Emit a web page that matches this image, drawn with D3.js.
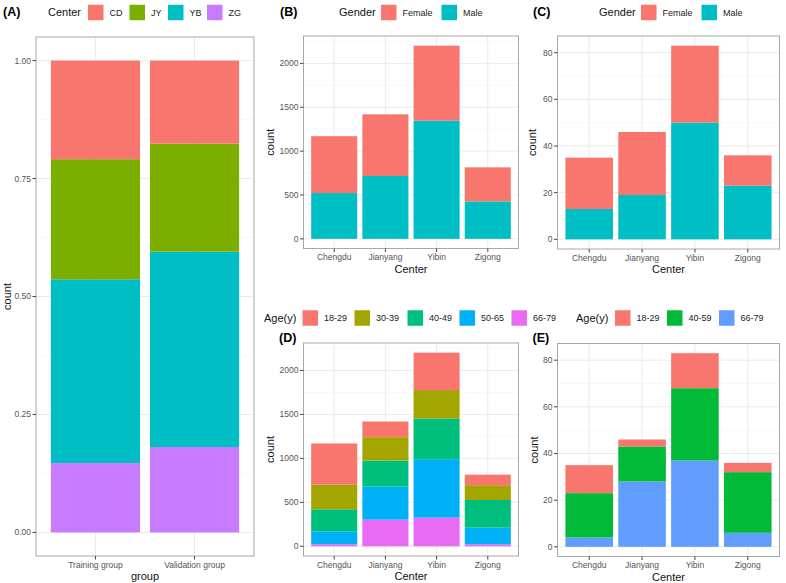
<!DOCTYPE html>
<html>
<head>
<meta charset="utf-8">
<script src="https://cdn.jsdelivr.net/npm/d3@7"></script>
<style>
  body { margin: 0; background: #fff; }
  svg { display: block; font-family: "Liberation Sans", Arial, sans-serif; }
</style>
</head>
<body>
<svg id="chart" width="786" height="583"></svg>
<script>
// ---------- DATA ----------
// Panel A: proportion of each center within group
const groupsA = ["Training group", "Validation group"];
const centerCodes = ["CD", "JY", "YB", "ZG"];
const propCD = [0.209, 0.176];
const propJY = [0.2545, 0.229];
const propYB = [0.3895, 0.414];
const propZG = [0.147, 0.181];

// Panels B-E
const centers = ["Chengdu", "Jianyang", "Yibin", "Zigong"];
const genders = ["Female", "Male"];
const trainFemale = [648, 703, 855, 388];
const trainMale = [522, 716, 1347, 427];
const valFemale = [22, 27, 33, 13];
const valMale = [13, 19, 50, 23];

const agesD = ["18-29", "30-39", "40-49", "50-65", "66-79"];
const d18_29 = [468, 178, 425, 120];
const d30_39 = [281, 266, 324, 168];
const d40_49 = [250, 296, 462, 315];
const d50_65 = [148, 376, 665, 189];
const d66_79 = [23, 303, 326, 23];

const agesE = ["18-29", "40-59", "66-79"];
const e18_29 = [12, 3, 15, 4];
const e40_59 = [19, 15, 31, 26];
const e66_79 = [4, 28, 37, 6];

const ticksA = [0, 0.25, 0.5, 0.75, 1];
const ticksB = [0, 500, 1000, 1500, 2000];
const ticksC = [0, 20, 40, 60, 80];

const hue4 = ["#F8766D", "#7CAE00", "#00BFC4", "#C77CFF"];
const hue2 = ["#F8766D", "#00BFC4"];
const hue5 = ["#F8766D", "#A3A500", "#00BF7D", "#00B0F6", "#E76BF3"];
const hue3 = ["#F8766D", "#00BA38", "#619CFF"];

// ---------- DRAW ----------
const svg = d3.select("#chart");

function buildRows(cats, keys, series) {
  return cats.map((c, i) => {
    const r = { cat: c };
    keys.forEach((k, j) => r[k] = series[j][i]);
    return r;
  });
}

function panel(o) {
  const rows = buildRows(o.cats, o.keys, o.series);
  const totals = rows.map(r => d3.sum(o.keys, k => r[k]));
  const maxV = o.maxV != null ? o.maxV : d3.max(totals);
  const y = d3.scaleLinear().domain([-0.05 * maxV, maxV * 1.05]).range([o.bottom, o.top]);
  const n = o.cats.length;
  const x = d3.scaleLinear().domain([0.4, n + 0.6]).range([o.left, o.right]);
  const g = svg.append("g");

  // background grid
  const minor = [];
  for (let i = 0; i < o.ticks.length - 1; i++) minor.push((o.ticks[i] + o.ticks[i + 1]) / 2);
  const step = o.ticks[1] - o.ticks[0];
  const extra = o.ticks[o.ticks.length - 1] + step / 2;
  if (extra <= maxV * 1.05) minor.push(extra);
  g.selectAll(".minor").data(minor).enter().append("line")
    .attr("x1", o.left).attr("x2", o.right)
    .attr("y1", d => y(d)).attr("y2", d => y(d))
    .attr("stroke", "#f3f3f3").attr("stroke-width", 0.6);
  g.selectAll(".major").data(o.ticks).enter().append("line")
    .attr("x1", o.left).attr("x2", o.right)
    .attr("y1", d => y(d)).attr("y2", d => y(d))
    .attr("stroke", "#ebebeb").attr("stroke-width", 1);
  g.selectAll(".vmajor").data(o.cats).enter().append("line")
    .attr("x1", (d, i) => x(i + 1)).attr("x2", (d, i) => x(i + 1))
    .attr("y1", o.top).attr("y2", o.bottom)
    .attr("stroke", "#ebebeb").attr("stroke-width", 1);

  // stacked bars: first key on top
  const stack = d3.stack().keys(o.keys.slice().reverse());
  const layers = stack(rows);
  const colorOf = {};
  o.keys.forEach((k, i) => colorOf[k] = o.colors[i]);
  const bw = x(1.45) - x(0.55);
  layers.forEach(layer => {
    g.selectAll(null).data(layer).enter().append("rect")
      .attr("x", (d, i) => x(i + 1) - bw / 2)
      .attr("width", bw)
      .attr("y", d => y(d[1]))
      .attr("height", d => y(d[0]) - y(d[1]))
      .attr("fill", colorOf[layer.key]);
  });

  // border
  g.append("rect").attr("x", o.left).attr("y", o.top)
    .attr("width", o.right - o.left).attr("height", o.bottom - o.top)
    .attr("fill", "none").attr("stroke", "#a8a8a8").attr("stroke-width", 1);

  // y axis
  const fmt = o.fmt || (d => d);
  o.ticks.forEach(t => {
    g.append("line").attr("x1", o.left - 3.5).attr("x2", o.left)
      .attr("y1", y(t)).attr("y2", y(t)).attr("stroke", "#444").attr("stroke-width", 1);
    g.append("text").attr("x", o.left - 5).attr("y", y(t)).attr("dy", "0.35em")
      .attr("text-anchor", "end").attr("font-size", 8.5).attr("fill", "#555").text(fmt(t));
  });
  // x axis
  o.cats.forEach((c, i) => {
    g.append("line").attr("x1", x(i + 1)).attr("x2", x(i + 1))
      .attr("y1", o.bottom).attr("y2", o.bottom + 3.5).attr("stroke", "#444").attr("stroke-width", 1);
    g.append("text").attr("x", x(i + 1)).attr("y", o.bottom + 9).attr("dy", "0.35em")
      .attr("text-anchor", "middle").attr("font-size", 8.5).attr("fill", "#555").text(c);
  });
  // axis titles
  g.append("text").attr("x", (o.left + o.right) / 2).attr("y", o.bottom + 20.5).attr("dy", "0.35em")
    .attr("text-anchor", "middle").attr("font-size", 11).attr("fill", "#111").text(o.xTitle);
  g.append("text").attr("transform", `translate(${o.yTitleX},${(o.top + o.bottom) / 2}) rotate(-90)`)
    .attr("dy", "0.35em").attr("text-anchor", "middle").attr("font-size", 11).attr("fill", "#111").text("count");
}

function legend(o) {
  const g = svg.append("g");
  g.append("text").attr("x", o.titleX).attr("y", o.cy).attr("dy", "0.35em")
    .attr("font-size", 11).attr("fill", "#111").text(o.title);
  o.labels.forEach((l, i) => {
    g.append("rect").attr("x", o.keyX[i]).attr("y", o.cy - 7.75)
      .attr("width", 15.5).attr("height", 15.5).attr("fill", o.colors[i]);
    g.append("text").attr("x", o.keyX[i] + 21.5).attr("y", o.cy).attr("dy", "0.35em")
      .attr("font-size", 9).attr("fill", "#222").text(l);
  });
}

function tag(t, x, y) {
  svg.append("text").attr("x", x).attr("y", y).attr("dy", "0.35em")
    .attr("font-size", 12.5).attr("font-weight", "bold").attr("fill", "#000").text(t);
}

// Panel A
panel({ cats: groupsA, keys: centerCodes, series: [propCD, propJY, propYB, propZG], colors: hue4,
  maxV: 1, ticks: ticksA, fmt: d3.format(".2f"),
  left: 36, right: 254, top: 37, bottom: 556, xTitle: "group", yTitleX: 7 });
legend({ title: "Center", titleX: 48, cy: 12.5, labels: centerCodes, colors: hue4, keyX: [88, 129.5, 168, 207] });
tag("(A)", 3, 12);

// Panel B
panel({ cats: centers, keys: genders, series: [trainFemale, trainMale], colors: hue2,
  ticks: ticksB, left: 303.5, right: 518.5, top: 36, bottom: 248.5, xTitle: "Center", yTitleX: 270 });
legend({ title: "Gender", titleX: 339, cy: 12.5, labels: genders, colors: hue2, keyX: [381, 441.5] });
tag("(B)", 280, 12);

// Panel C
panel({ cats: centers, keys: genders, series: [valFemale, valMale], colors: hue2,
  ticks: ticksC, left: 557.5, right: 779.5, top: 36, bottom: 249, xTitle: "Center", yTitleX: 532.5 });
legend({ title: "Gender", titleX: 599, cy: 12.5, labels: genders, colors: hue2, keyX: [641, 701.5] });
tag("(C)", 533, 12);

// Panel D
panel({ cats: centers, keys: agesD, series: [d18_29, d30_39, d40_49, d50_65, d66_79], colors: hue5,
  ticks: ticksB, left: 303.5, right: 518.5, top: 343, bottom: 556, xTitle: "Center", yTitleX: 270 });
legend({ title: "Age(y)", titleX: 264, cy: 318, labels: agesD, colors: hue5, keyX: [302.5, 354.5, 407.5, 459.5, 511.5] });
tag("(D)", 279, 337.5);

// Panel E
panel({ cats: centers, keys: agesE, series: [e18_29, e40_59, e66_79], colors: hue3,
  ticks: ticksC, left: 557.5, right: 779.5, top: 343.5, bottom: 556.5, xTitle: "Center", yTitleX: 534 });
legend({ title: "Age(y)", titleX: 576, cy: 318, labels: agesE, colors: hue3, keyX: [615, 667, 719] });
tag("(E)", 532.5, 337.5);
</script>
</body>
</html>
